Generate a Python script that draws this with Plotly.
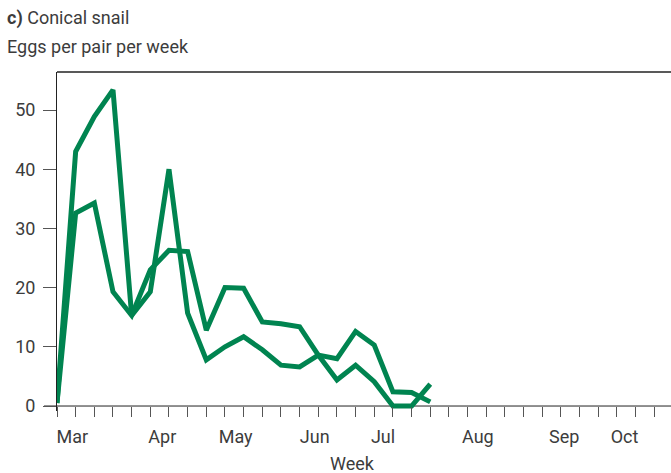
import plotly.graph_objects as go

# Eggs per pair per week, conical snail, two replicate pairs
weeks = list(range(21))
pair_a = [0.5, 43.0, 48.9, 53.4, 15.3, 19.3, 40.0, 15.7, 7.8, 10.0, 11.7,
          9.5, 6.9, 6.6, 8.6, 8.0, 12.6, 10.3, 2.4, 2.3, 0.7]
pair_b = [0.5, 32.6, 34.3, 19.3, 15.3, 23.0, 26.3, 26.1, 12.8, 20.0, 19.9,
          14.2, 13.9, 13.4, 8.6, 4.4, 6.9, 4.1, 0.0, 0.0, 3.7]

month_labels = ["Mar", "Apr", "May", "Jun", "Jul", "Aug", "Sep", "Oct"]
month_pos = [0.82, 5.64, 9.57, 13.81, 17.47, 22.55, 27.18, 30.41]
y_ticks = [0, 10, 20, 30, 40, 50]

W, H = 671, 473
M_L, M_R, M_T, M_B = 57, 0, 72, 62
PW, PH = W - M_L - M_R, H - M_T - M_B
X_RANGE = [0, 32.9]
Y_RANGE = [-0.84, 56.42]

GREEN = "#008450"
TEXT = "#3c3c3c"
FONT = "Roboto"

def px_x(px):
    return (px - M_L) / PW

def px_y(py):
    return (H - M_B - py) / PH

y0_paper = (0 - Y_RANGE[0]) / (Y_RANGE[1] - Y_RANGE[0])

fig = go.Figure()
for series in (pair_a, pair_b):
    fig.add_trace(go.Scatter(
        x=weeks, y=series, mode="lines",
        line=dict(color=GREEN, width=5),
        showlegend=False, hoverinfo="skip",
    ))

fig.update_layout(
    width=W, height=H,
    margin=dict(l=M_L, r=M_R, t=M_T, b=M_B, pad=0),
    plot_bgcolor="white", paper_bgcolor="white",
    font=dict(family=FONT, size=18, color=TEXT),
    xaxis=dict(
        range=X_RANGE, anchor="free", position=y0_paper,
        showline=False, showgrid=False, zeroline=False,
        tickvals=month_pos, ticktext=month_labels,
        ticks="outside", ticklen=14, tickcolor="rgba(0,0,0,0)",
        tickfont=dict(family=FONT, size=18, color=TEXT),
        minor=dict(dtick=1, tick0=0, ticks="outside", ticklen=10,
                   tickcolor="#555", tickwidth=1, showgrid=False),
    ),
    yaxis=dict(
        range=Y_RANGE, tickvals=y_ticks,
        showline=True, linecolor="#222", linewidth=1,
        showgrid=False, zeroline=False,
        ticks="outside", ticklen=13, tickcolor="#555", tickwidth=1,
        ticklabelstandoff=4,
        tickfont=dict(family=FONT, size=18, color=TEXT),
    ),
    shapes=[
        # baseline at zero, running slightly past the y axis
        dict(type="line", xref="paper", yref="paper",
             x0=-13 / PW, x1=1, y0=y0_paper, y1=y0_paper,
             line=dict(color="#222", width=1), layer="below"),
        # top frame
        dict(type="line", xref="paper", yref="paper",
             x0=0, x1=1, y0=1, y1=1,
             line=dict(color="#222", width=1.5), layer="below"),
    ],
    annotations=[
        dict(text="<b>c)</b> Conical snail", xref="paper", yref="paper",
             x=px_x(5), y=px_y(18), xanchor="left", yanchor="middle",
             showarrow=False, font=dict(family=FONT, size=18, color=TEXT)),
        dict(text="Eggs per pair per week", xref="paper", yref="paper",
             x=px_x(5), y=px_y(47), xanchor="left", yanchor="middle",
             showarrow=False, font=dict(family=FONT, size=18, color=TEXT)),
        dict(text="Week", xref="paper", yref="paper",
             x=px_x(352), y=px_y(463), xanchor="center", yanchor="middle",
             showarrow=False, font=dict(family=FONT, size=18, color=TEXT)),
    ],
)

fig.write_html("out.html")
